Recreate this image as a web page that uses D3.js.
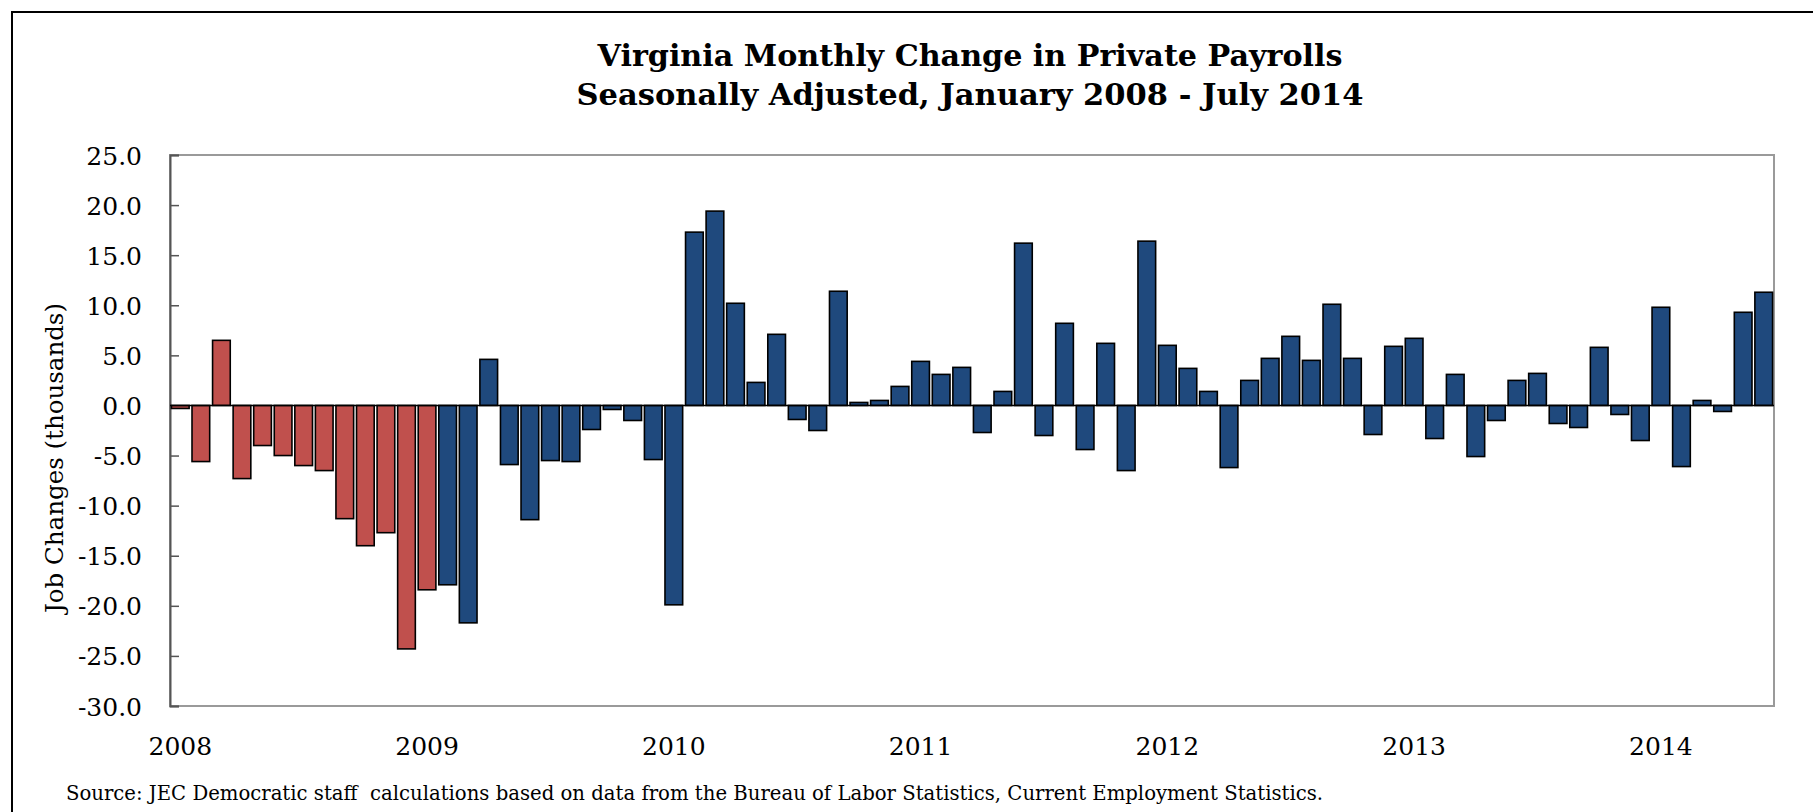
<!DOCTYPE html>
<html><head><meta charset="utf-8">
<script src="https://cdn.jsdelivr.net/npm/d3@7"></script>
<style>html,body{margin:0;padding:0;background:#fff;}svg{display:block;}</style>
</head><body>
<svg id="chart" width="1813" height="812"></svg>
<script>
// ---- data ----
const years = ["2008","2009","2010","2011","2012","2013","2014"];
const values2008 = [-0.3,-5.6,6.5,-7.3,-4.0,-5.0,-6.0,-6.5,-11.3,-14.0,-12.7,-24.3];
const values2009 = [-18.4,-17.9,-21.7,4.6,-5.9,-11.4,-5.5,-5.6,-2.4,-0.4,-1.5,-5.4];
const values2010 = [-19.9,17.3,19.4,10.2,2.3,7.1,-1.4,-2.5,11.4,0.3,0.5,1.9];
const values2011 = [4.4,3.1,3.8,-2.7,1.4,16.2,-3.0,8.2,-4.4,6.2,-6.5,16.4];
const values2012 = [6.0,3.7,1.4,-6.2,2.5,4.7,6.9,4.5,10.1,4.7,-2.9,5.9];
const values2013 = [6.7,-3.3,3.1,-5.1,-1.5,2.5,3.2,-1.8,-2.2,5.8,-0.9,-3.5];
const values2014 = [9.8,-6.1,0.5,-0.6,9.3,11.3];
const redMonths = 13; // Jan 2008 - Jan 2009 shown in red
const yTicks = [25,20,15,10,5,0,-5,-10,-15,-20,-25,-30];
const titleLines = ["Virginia Monthly Change in Private Payrolls","Seasonally Adjusted, January 2008 - July 2014"];
const yLabel = "Job Changes (thousands)";
const sourceText = "Source: JEC Democratic staff  calculations based on data from the Bureau of Labor Statistics, Current Employment Statistics.";

const allValues = [values2008,values2009,values2010,values2011,values2012,values2013,values2014];
const data = [];
allValues.forEach((arr,yi)=>arr.forEach((v,mi)=>data.push({year:years[yi],month:mi,key:years[yi]+"-"+(mi+1),value:v})));
data.forEach((d,i)=>d.red = i < redMonths);

// ---- layout ----
const svg = d3.select("#chart");
const L = 170, R = 1774, T = 155, B = 706;
const serif = "'DejaVu Serif', serif";

const x = d3.scaleBand().domain(data.map(d=>d.key)).range([L,R]).paddingInner(0.14).paddingOuter(0.07);
const y = d3.scaleLinear().domain([-30,25]).range([B,T]);

// outer frame
svg.append("rect").attr("x",12).attr("y",12).attr("width",1900).attr("height",900)
  .attr("fill","#fff").attr("stroke","#000").attr("stroke-width",2);

function fit(sel, target){
  const w = sel.node().getComputedTextLength();
  const fs = parseFloat(sel.attr("font-size"));
  sel.attr("font-size", (fs*target/w).toFixed(2));
}

// title
const t1 = svg.append("text").attr("x",970).attr("y",66).attr("text-anchor","middle")
  .attr("font-family",serif).attr("font-weight","bold").attr("font-size",29).text(titleLines[0]);
fit(t1,745);
const t2 = svg.append("text").attr("x",970).attr("y",105).attr("text-anchor","middle")
  .attr("font-family",serif).attr("font-weight","bold").attr("font-size",29).text(titleLines[1]);
fit(t2,787);

// plot frame (top/right/bottom gray)
svg.append("rect").attr("x",L).attr("y",T).attr("width",R-L).attr("height",B-T)
  .attr("fill","none").attr("stroke","#9a9a9a").attr("stroke-width",2);

// y axis
const fmt = d3.format(".1f");
const yAxis = d3.axisLeft(y).tickValues(yTicks).tickSize(-9).tickPadding(28)
  .tickFormat(d=>fmt(d).replace("\u2212","-"));
const gy = svg.append("g").attr("transform",`translate(${L},0)`).call(yAxis);
gy.select(".domain").attr("stroke","#555").attr("stroke-width",2);
gy.selectAll(".tick line").attr("stroke","#555").attr("stroke-width",1.5);
gy.selectAll(".tick text").attr("font-family",serif).attr("font-size",25).attr("fill","#000")
  .attr("dy","0.36em");

// bars
svg.append("g").selectAll("rect").data(data).join("rect")
  .attr("x",d=>x(d.key)).attr("width",x.bandwidth())
  .attr("y",d=>y(Math.max(0,d.value))).attr("height",d=>Math.abs(y(d.value)-y(0)))
  .attr("fill",d=>d.red ? "#C0504D" : "#1F497D")
  .attr("stroke","#000").attr("stroke-width",1.6);

// zero line
svg.append("line").attr("x1",L).attr("x2",R).attr("y1",y(0)).attr("y2",y(0))
  .attr("stroke","#000").attr("stroke-width",1.5);

// x year labels
const yearKeys = years.map(yr=>yr+"-1");
const xAxis = d3.axisBottom(x).tickValues(yearKeys).tickSize(0).tickPadding(0)
  .tickFormat(k=>k.split("-")[0]);
const gx = svg.append("g").attr("transform",`translate(0,${B})`).call(xAxis);
gx.select(".domain").remove();
gx.selectAll(".tick text").attr("font-family",serif).attr("font-size",25).attr("fill","#000")
  .attr("dy",null).attr("y",49);

// y label
const yl = svg.append("text").attr("transform","translate(63,458) rotate(-90)")
  .attr("text-anchor","middle").attr("font-family",serif).attr("font-size",25).text(yLabel);
fit(yl,310);

// source
const src = svg.append("text").attr("x",66).attr("y",800).style("white-space","pre")
  .attr("font-family",serif).attr("font-size",22).text(sourceText);
fit(src,1258);
</script>
</body></html>
